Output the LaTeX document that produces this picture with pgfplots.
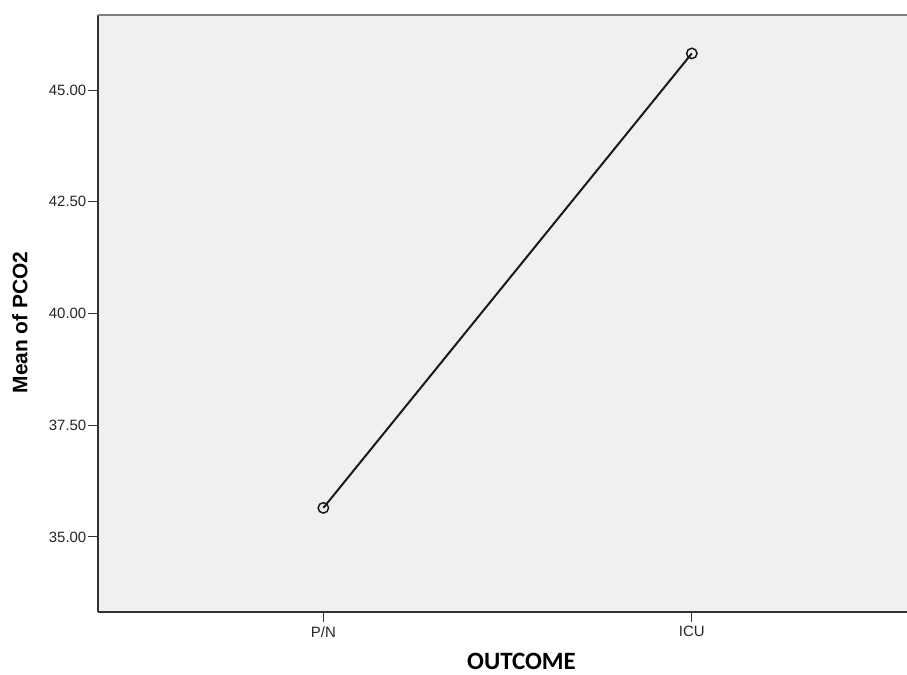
\documentclass[border=0pt]{standalone}
\usepackage{pgfplots}
\pgfplotsset{compat=1.18}
\usepackage{fontspec}
\setmainfont{Liberation Sans}
\newfontfamily\calib{Carlito}
\definecolor{plotbg}{RGB}{240,240,241}
\definecolor{axisdark}{RGB}{50,50,50}
\definecolor{axistop}{RGB}{128,128,128}
\begin{document}
\begin{tikzpicture}
\useasboundingbox (-98bp,-63bp) rectangle (809bp,612bp);
\begin{axis}[
    at={(0,0)}, anchor=south west,
    scale only axis,
    width=809bp, height=597bp,
    xmin=-0.6116, xmax=1.584,
    ymin=33.32, ymax=46.68,
    axis x line*=bottom, axis y line*=left,
    axis line style={axisdark, line width=1.3bp, -},
    axis background/.style={fill=plotbg},
    xtick={0,1}, xticklabels={P/N,ICU},
    ytick={35,37.5,40,42.5,45},
    yticklabel style={/pgf/number format/fixed, /pgf/number format/fixed zerofill, /pgf/number format/precision=2},
    /pgf/number format/assume math mode=true,
    tick align=outside, major tick length=10bp,
    tick style={axisdark, line width=1.1bp},
    ticklabel style={font=\fontsize{15}{17}\selectfont, text=black!85},
    yticklabel style={inner xsep=1.5bp},
    xticklabel style={yshift=-1bp},
    xlabel={\calib\bfseries OUTCOME},
    ylabel={\bfseries Mean of PCO2},
    xlabel style={at={(axis description cs:0.5235,-0.096)}, anchor=base, inner sep=0pt, font=\fontsize{25}{28}\selectfont},
    ylabel style={at={(axis description cs:-0.0964,0.485)}, anchor=center, font=\fontsize{21}{24}\selectfont},
    clip=false,
]
\addplot[black!90, line width=2bp, mark=o, mark size=5.2bp,
    mark options={line width=1.5bp}]
    coordinates { (0,35.65) (1,45.82) };
\draw[axistop, line width=1.3bp] (rel axis cs:0,1) -- (rel axis cs:1,1);
\end{axis}
\end{tikzpicture}
\end{document}
